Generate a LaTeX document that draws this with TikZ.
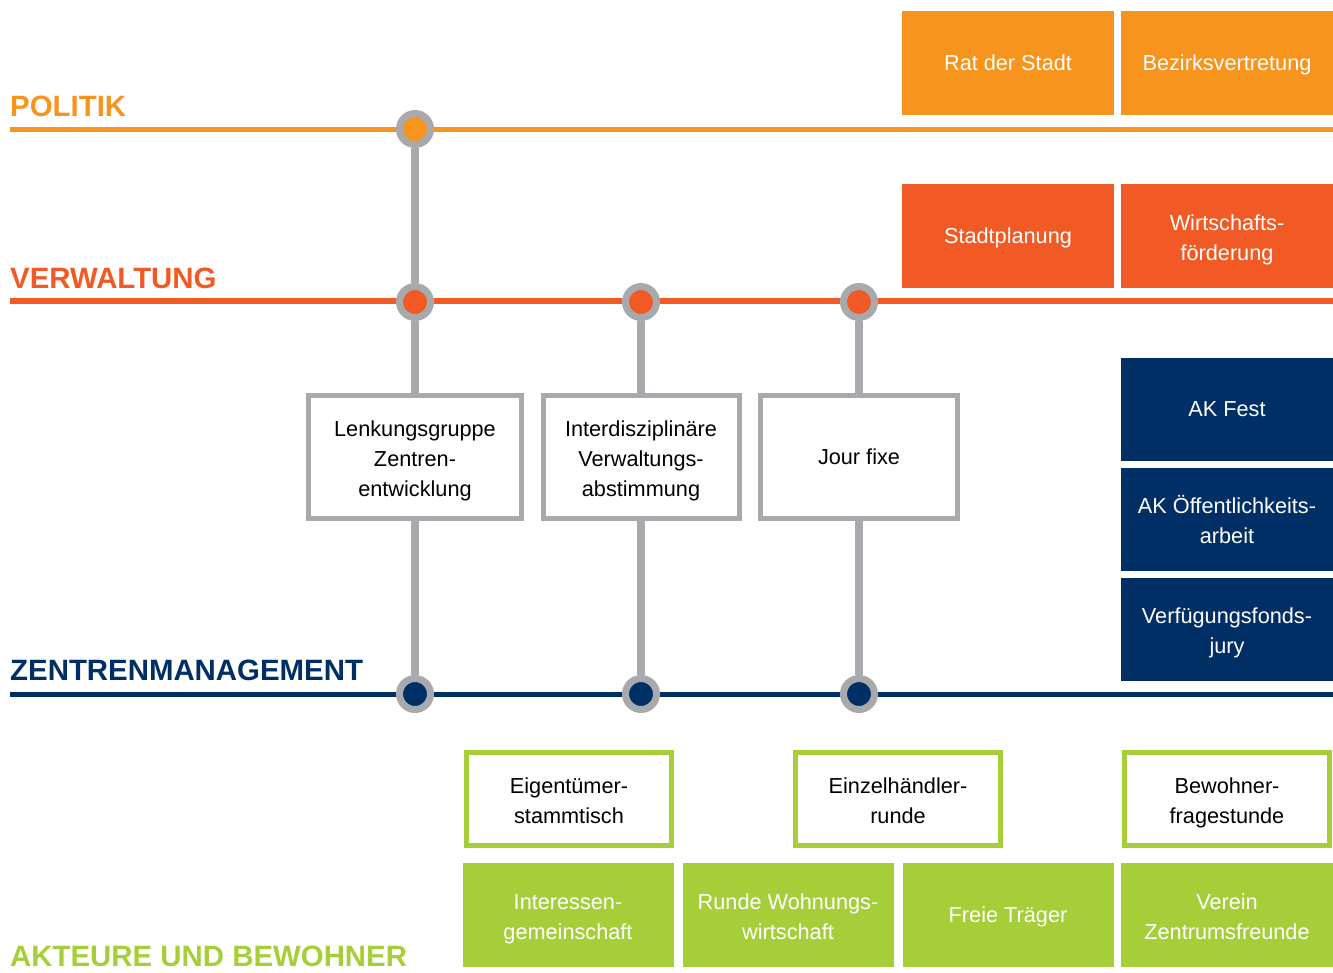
\documentclass[tikz,border=0pt]{standalone}
\usepackage{fontspec}
\setmainfont{Liberation Sans}
\usetikzlibrary{positioning}
\definecolor{polorange}{HTML}{F7941D}
\definecolor{verorange}{HTML}{F15A24}
\definecolor{zmnavy}{HTML}{002F66}
\definecolor{akgreen}{HTML}{A6CE39}
\definecolor{linegray}{HTML}{A7A9AC}
\newcommand{\boxstrut}{\rule[-4.6pt]{0pt}{24.6pt}}
\newcommand{\topstrut}[1]{\rule{0pt}{\dimexpr 30pt*(#1-1)+23pt\relax}}
\tikzset{
  levellabel/.style={anchor=base west, inner sep=0mm, font=\fontsize{29.4}{30}\selectfont\bfseries
  },
  boxtext/.style={
    align=center, font=\fontsize{21.7}{30}\selectfont,
    execute at begin node=\boxstrut, execute at end node=\boxstrut
  },
  multiline/.style={execute at begin node={\topstrut{#1}}},
  multiline/.default=2,
  filledbox/.style={
    boxtext, fill=#1, text=white, minimum width=212pt, minimum height=104pt, inner sep=0mm
  },
  greenframe/.style={
    boxtext, multiline, draw=akgreen, line width=5pt, fill=white, minimum width=205pt,
    minimum height=93pt, inner sep=0mm
  },
  grayframe/.style={
    boxtext, draw=linegray, line width=5pt, fill=white, minimum height=123pt, inner sep=0mm
  },
  stop/.style={
    draw=linegray, circle, fill=#1, minimum size=31pt, inner sep=0mm, line width=7pt
  },
  vline/.style={draw=linegray, line width=8pt}
}
\begin{document}
\begin{tikzpicture}[x=1pt, y=-1pt]
 \useasboundingbox (0, 0) rectangle (1333, 972);

 \coordinate (polL) at (10, 129);
 \coordinate (polR) at (1333, 129);
 \coordinate (verL) at (10, 301);
 \coordinate (verR) at (1333, 301);
 \coordinate (zenL) at (10, 694);
 \coordinate (zenR) at (1333, 694);
 \draw[polorange, line width=5pt] (polL) -- (polR);
 \draw[verorange, line width=6pt] (verL) -- (verR);
 \draw[zmnavy, line width=5pt] (zenL) -- (zenR);

 \node[levellabel, text=polorange] (politik) at (10, 116) {POLITIK};
 \node[levellabel, text=verorange] (verwaltung) at (10, 288) {VERWALTUNG};
 \node[levellabel, text=zmnavy] (zentrenm) at (10, 680) {ZENTRENMANAGEMENT};
 \node[levellabel, text=akgreen] (akteure) at (10, 966) {AKTEURE UND BEWOHNER};

 \node[filledbox=polorange] (rat) at (1008, 63) {Rat der Stadt};
 \node[filledbox=polorange] (bezirk) at (1227, 63) {Bezirksvertretung};
 \node[filledbox=verorange] (stadtpl) at (1008, 236) {Stadtplanung};
 \node[filledbox=verorange, multiline] (wifoe) at (1227, 236) {Wirtschafts-\\förderung};
 \node[filledbox=zmnavy, minimum height=103pt] (akfest) at (1227, 409) {AK Fest};
 \node[filledbox=zmnavy, minimum height=103pt, multiline] (akoeff) at (1227, 519) {AK Öffentlichkeits-\\arbeit};
 \node[filledbox=zmnavy, minimum height=103pt, multiline] (jury) at (1227, 629) {Verfügungsfonds-\\jury};

 \node[grayframe, multiline=3, minimum width=213pt] (lenk) at (415, 457) {Lenkungsgruppe\\Zentren-\\entwicklung};
 \node[grayframe, multiline=3, minimum width=196pt] (inter) at (641, 457) {Interdisziplinäre\\Verwaltungs-\\abstimmung};
 \node[grayframe, minimum width=197pt] (jour) at (859, 457) {Jour fixe};

 \node[greenframe] (eigent) at (569, 799) {Eigentümer-\\stammtisch};
 \node[greenframe] (einzel) at (898, 799) {Einzelhändler-\\runde};
 \node[greenframe] (bewohn) at (1227, 799) {Bewohner-\\fragestunde};

 \node[filledbox=akgreen, multiline, minimum width=211pt] (igem) at (568, 915) {Interessen-\\gemeinschaft};
 \node[filledbox=akgreen, multiline, minimum width=211pt] (runde) at (788, 915) {Runde Wohnungs-\\wirtschaft};
 \node[filledbox=akgreen, minimum width=211pt] (freie) at (1008, 915) {Freie Träger};
 \node[filledbox=akgreen, multiline, minimum width=212pt] (verein) at (1227, 915) {Verein\\Zentrumsfreunde};

 \node[stop=polorange] (p1) at (415, 129) {};
 \node[stop=verorange] (v1) at (415, 302) {};
 \node[stop=verorange] (v2) at (641, 302) {};
 \node[stop=verorange] (v3) at (859, 302) {};
 \node[stop=zmnavy] (z1) at (415, 694) {};
 \node[stop=zmnavy] (z2) at (641, 694) {};
 \node[stop=zmnavy] (z3) at (859, 694) {};

 \draw[vline] (p1) -- (v1);
 \foreach \v/\b/\z in {v1/lenk/z1, v2/inter/z2, v3/jour/z3} {
   \draw[vline] (\v) -- (\b);
   \draw[vline] (\b) -- (\z);
  }

\end{tikzpicture}
\end{document}
